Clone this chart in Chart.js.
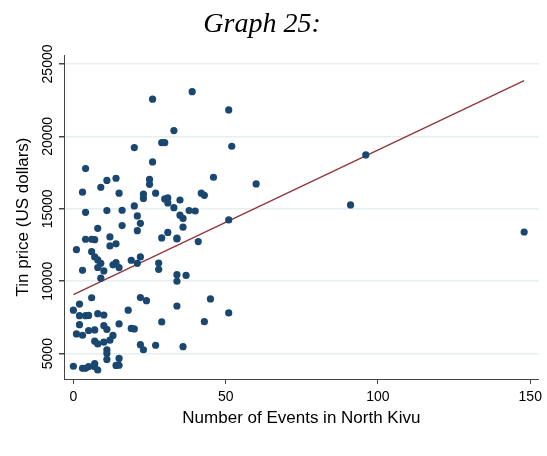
<!DOCTYPE html>
<html>
<head>
<meta charset="utf-8">
<script src="https://cdn.jsdelivr.net/npm/chart.js@4"></script>
<style>
  body { margin: 0; background: #ffffff; }
  canvas { display: block; }
</style>
</head>
<body>
<canvas id="chart" width="547" height="456"></canvas>
<script>
const chartTitle = "Graph 25:";
const xTitle = "Number of Events in North Kivu";
const yTitle = "Tin price (US dollars)";

// Monthly observations: conflict events vs. tin price
const events = [
  26, 39, 51, 33, 20, 29, 30, 52, 4, 26, 96, 46, 60, 14, 11, 9, 3, 15, 25, 25,
  27, 23, 23, 20, 21, 30, 31, 31, 33, 35, 4, 11, 16, 42, 43, 38, 40, 35, 36, 51,
  36, 34, 41, 91, 148, 16, 22, 21, 8, 4, 6, 7, 12, 12, 14, 1, 6, 7, 8, 9,
  8, 10, 3, 9, 13, 14, 15, 19, 22, 21, 28, 28, 29, 31, 34, 34, 34, 37, 6, 2,
  0, 2, 4, 5, 8, 10, 2, 1, 3, 5, 7, 10, 11, 15, 7, 8, 10, 13, 12, 11,
  11, 11, 18, 22, 24, 19, 20, 22, 23, 27, 29, 34, 45, 51, 43, 36, 0, 3, 4, 5,
  7, 7, 8, 15, 14, 15
];
const tinPrice = [
  22570, 23090, 21830, 20400, 19230, 19570, 19570, 19320, 17780, 18240,
  18720, 17180, 16720, 17110, 16960, 16490, 16150, 16080, 17030, 16690,
  16080, 16010, 15720, 15200, 14510, 15680, 15750, 15410, 15080, 15610,
  14760, 14880, 14900, 16080, 15930, 14880, 14850, 14560, 14340, 14230,
  13730, 12970, 12740, 15270, 13400, 13840, 14000, 13490, 13650, 12900,
  12900, 12870, 13060, 12440, 12580, 12180, 12040, 11680, 11470, 11240,
  10950, 10710, 10750, 10210, 11130, 11280, 10940, 11450, 11680, 11240,
  11260, 10820, 12990, 13370, 12920, 10450, 10000, 10400, 8860, 8420,
  8000, 7620, 7620, 7640, 7760, 7670, 7000, 6360, 6270, 6600,
  6640, 6930, 6670, 7050, 5860, 5670, 5790, 6260, 5930, 5260,
  5010, 4600, 8000, 8870, 8660, 6740, 6710, 5620, 5270, 5580,
  7190, 8290, 8780, 7810, 7210, 5480, 4130, 3990, 3990, 4100,
  4320, 4100, 3870, 4670, 4190, 4200
];

// Fitted line end points
const fitX = [0, 148];
const fitY = [9080, 23850];

const xTicks = [0, 50, 100, 150];
const yTicks = [5000, 10000, 15000, 20000, 25000];
const yTickLabels = ["5000", "10000", "15000", "20000", "25000"];

// y tick labels are drawn rotated, and the title sits above the plot
const textPlugin = {
  id: "textPlugin",
  afterDraw(chart) {
    const { ctx } = chart;
    const yScale = chart.scales.y;

    ctx.save();
    ctx.fillStyle = "#000000";
    ctx.textAlign = "center";

    ctx.font = "italic 28px 'Liberation Serif'";
    ctx.textBaseline = "alphabetic";
    ctx.fillText(chartTitle, 262, 32);

    ctx.font = "14px 'Liberation Sans'";
    ctx.textBaseline = "middle";
    for (let i = 0; i < yTicks.length; i++) {
      ctx.save();
      ctx.translate(48, yScale.getPixelForValue(yTicks[i]));
      ctx.rotate(-Math.PI / 2);
      ctx.fillText(yTickLabels[i], 0, 0);
      ctx.restore();
    }
    ctx.restore();
  },
};

const points = events.map((x, i) => ({ x: x, y: tinPrice[i] }));
const fitLine = fitX.map((x, i) => ({ x: x, y: fitY[i] }));

new Chart(document.getElementById("chart"), {
  type: "scatter",
  data: {
    datasets: [
      {
        data: points,
        backgroundColor: "#1a476f",
        borderWidth: 0,
        pointRadius: 3.6,
        order: 0,
      },
      {
        type: "line",
        data: fitLine,
        borderColor: "#90353b",
        borderWidth: 1.3,
        pointRadius: 0,
        fill: false,
        order: 1,
      },
    ],
  },
  options: {
    responsive: false,
    animation: false,
    devicePixelRatio: 1,
    layout: { padding: { top: 55, right: 2, left: 0, bottom: 0 } },
    plugins: {
      legend: { display: false },
      tooltip: { enabled: false },
    },
    scales: {
      x: {
        type: "linear",
        min: -3.08,
        max: 152.8,
        afterBuildTicks(scale) {
          scale.ticks = xTicks.map((v) => ({ value: v }));
        },
        afterFit(scale) {
          scale.height = 77;
        },
        border: { color: "#444444", width: 1 },
        grid: {
          drawOnChartArea: false,
          drawTicks: true,
          tickLength: 5,
          tickColor: "#444444",
        },
        ticks: {
          color: "#000000",
          padding: 5,
          maxRotation: 0,
          font: { family: "'Liberation Sans'", size: 14 },
        },
        title: {
          display: true,
          text: xTitle,
          color: "#000000",
          font: { family: "'Liberation Sans'", size: 17 },
          padding: { top: 0, bottom: 27 },
        },
      },
      y: {
        type: "linear",
        min: 3250,
        max: 25620,
        afterBuildTicks(scale) {
          scale.ticks = yTicks.map((v) => ({ value: v }));
        },
        afterFit(scale) {
          scale.width = 64;
        },
        border: { color: "#444444", width: 1 },
        grid: {
          color: "#e6eef0",
          lineWidth: 1.5,
          drawTicks: true,
          tickLength: 5,
          tickColor: "#444444",
        },
        ticks: {
          color: "rgba(0,0,0,0)",
          font: { family: "'Liberation Sans'", size: 14 },
        },
        title: {
          display: true,
          text: yTitle,
          color: "#000000",
          font: { family: "'Liberation Sans'", size: 17 },
          padding: { top: 13, bottom: 0 },
        },
      },
    },
  },
  plugins: [textPlugin],
});
</script>
</body>
</html>
